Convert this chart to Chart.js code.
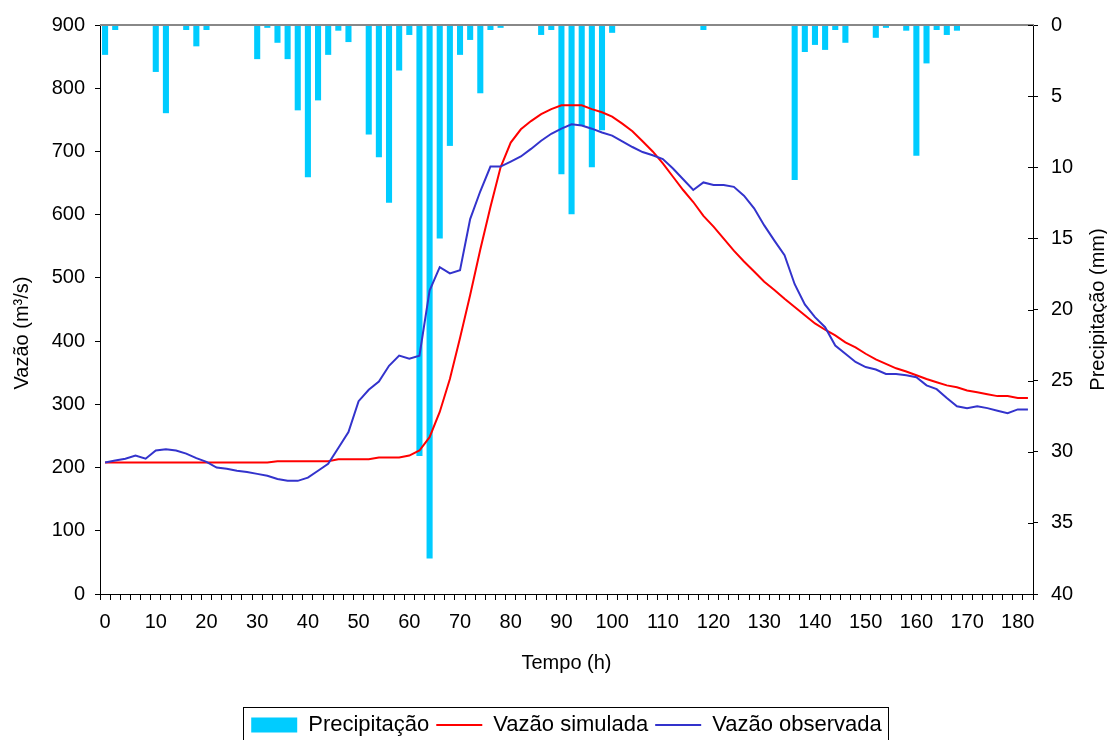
<!DOCTYPE html>
<html lang="pt-BR">
<head>
<meta charset="utf-8">
<title>Vazão e Precipitação</title>
<script src="https://cdn.jsdelivr.net/npm/chart.js@4.4.1/dist/chart.umd.min.js"></script>
<style>
    html, body { margin: 0; padding: 0; background: #fff; }
    #grafico { display: block; }
</style>
</head>
<body>
<canvas id="grafico" width="1107" height="740"></canvas>
<script>
/* ==========================================================================
   DADOS
   ========================================================================== */
const horas = [
    0, 2, 4, 6, 8, 10, 12, 14, 16, 18,
    20, 22, 24, 26, 28, 30, 32, 34, 36, 38,
    40, 42, 44, 46, 48, 50, 52, 54, 56, 58,
    60, 62, 64, 66, 68, 70, 72, 74, 76, 78,
    80, 82, 84, 86, 88, 90, 92, 94, 96, 98,
    100, 102, 104, 106, 108, 110, 112, 114, 116, 118,
    120, 122, 124, 126, 128, 130, 132, 134, 136, 138,
    140, 142, 144, 146, 148, 150, 152, 154, 156, 158,
    160, 162, 164, 166, 168, 170, 172, 174, 176, 178,
    180, 182
];

// Precipitação (mm)
const precipitacao = [
    2.1, 0.35, 0, 0, 0, 3.3, 6.2, 0, 0.35, 1.5,
    0.35, 0, 0, 0, 0, 2.4, 0.2, 1.25, 2.4, 6.0,
    10.7, 5.3, 2.1, 0.4, 1.2, 0, 7.7, 9.3, 12.5, 3.2,
    0.7, 30.3, 37.5, 15.0, 8.5, 2.1, 1.05, 4.8, 0.35, 0.2,
    0, 0, 0, 0.7, 0.35, 10.5, 13.3, 7.1, 10.0, 7.4,
    0.55, 0, 0, 0, 0, 0, 0, 0, 0, 0.35,
    0, 0, 0, 0, 0, 0, 0, 0, 10.9, 1.9,
    1.4, 1.75, 0.35, 1.25, 0, 0, 0.9, 0.2, 0, 0.4,
    9.2, 2.7, 0.35, 0.7, 0.4, 0, 0, 0, 0, 0,
    0, 0
];

// Vazão simulada (m3/s)
const vazaoSimulada = [
    208, 208, 208, 208, 208, 208, 208, 208, 208, 208,
    208, 208, 208, 208, 208, 208, 208, 210, 210, 210,
    210, 210, 210, 213, 213, 213, 213, 216, 216, 216,
    219, 227, 248, 288, 340, 405, 473, 545, 612, 675,
    714, 735, 748, 759, 767, 773, 773, 773, 767, 762,
    755, 744, 732, 716, 700, 681, 660, 639, 620, 598,
    581, 562, 543, 526, 510, 494, 481, 467, 454, 441,
    428, 418, 409, 398, 390, 380, 371, 364, 357, 352,
    346, 340, 335, 330, 327, 322, 319, 316, 313, 313,
    310, 310
];

// Vazão observada (m3/s)
const vazaoObservada = [
    208, 211, 214, 219, 214, 227, 229, 227, 222, 215,
    209, 200, 198, 195, 193, 190, 187, 182, 179, 179,
    184, 195, 206, 231, 256, 305, 323, 336, 361, 377,
    372, 377, 480, 517, 507, 512, 593, 637, 676, 676,
    684, 692, 704, 717, 728, 736, 743, 741, 736, 730,
    725, 716, 707, 699, 694, 688, 673, 656, 639, 651,
    647, 647, 644, 630, 610, 583, 559, 536, 490, 458,
    438, 422, 393, 380, 367, 359, 355, 348, 348, 346,
    343, 330, 324, 310, 297, 294, 297, 294, 290, 286,
    292, 292
];

const rotulosTempo = [0, 10, 20, 30, 40, 50, 60, 70, 80, 90, 100, 110, 120, 130, 140, 150, 160, 170, 180];
const ticksVazao = [0, 100, 200, 300, 400, 500, 600, 700, 800, 900];
const ticksPrecip = [0, 5, 10, 15, 20, 25, 30, 35, 40];

/* ==========================================================================
   ESTILO
   ========================================================================== */
const FONTE = 'Liberation Sans, Arial, sans-serif';
const COR_BARRA = '#00CCFF';
const COR_SIMULADA = '#FF0000';
const COR_OBSERVADA = '#3333CC';

// Desenhos extras: títulos dos eixos verticais, linha superior, moldura da legenda
const extras = {
    id: 'extras',
    beforeUpdate(chart) {
        // altura fixa da legenda
        const leg = chart.legend;
        if (leg && !leg._fixado) {
            const fitOriginal = leg.fit.bind(leg);
            leg.fit = function () { fitOriginal(); this.height = 33; };
            leg._fixado = true;
        }
    },
    afterDraw(chart) {
        const ctx = chart.ctx;
        const area = chart.chartArea;
        const y2 = chart.scales.y2;
        ctx.save();

        // linha cinza no topo da área do gráfico
        ctx.strokeStyle = '#888888';
        ctx.lineWidth = 2;
        ctx.beginPath();
        ctx.moveTo(area.left, area.top);
        ctx.lineTo(area.right + 1, area.top);
        ctx.stroke();

        // marcas internas do eixo secundário
        ctx.strokeStyle = '#000';
        ctx.lineWidth = 1;
        ticksPrecip.forEach(v => {
            const py = Math.round(y2.getPixelForValue(v)) + 0.5;
            ctx.beginPath();
            ctx.moveTo(area.right - 5, py);
            ctx.lineTo(area.right, py);
            ctx.stroke();
        });

        // títulos dos eixos verticais
        ctx.fillStyle = '#000';
        ctx.font = '20px ' + FONTE;
        ctx.textAlign = 'center';
        ctx.textBaseline = 'middle';

        ctx.save();
        ctx.translate(22, 333);
        ctx.rotate(-Math.PI / 2);
        ctx.fillText('Vazão (m³/s)', 0, 0);
        ctx.restore();

        ctx.save();
        ctx.translate(1098, (area.top + area.bottom) / 2);
        ctx.rotate(-Math.PI / 2);
        ctx.fillText('Precipitação (mm)', 0, 0);
        ctx.restore();

        // moldura da legenda
        const caixas = chart.legend.legendHitBoxes;
        if (caixas && caixas.length) {
            const esq = Math.min(...caixas.map(b => b.left)) - 8;
            const dir = Math.max(...caixas.map(b => b.left + b.width)) + 6;
            ctx.strokeStyle = '#000';
            ctx.lineWidth = 1;
            ctx.strokeRect(Math.round(esq) + 0.5, chart.legend.top + 0.5, Math.round(dir - esq), 60);
        }
        ctx.restore();
    }
};

/* ==========================================================================
   GRÁFICO
   ========================================================================== */
const ctx = document.getElementById('grafico').getContext('2d');

new Chart(ctx, {
    type: 'bar',
    data: {
        labels: horas,
        datasets: [{
            type: 'line',
            label: 'Vazão observada',
            data: vazaoObservada,
            yAxisID: 'y',
            borderColor: COR_OBSERVADA,
            backgroundColor: COR_OBSERVADA,
            borderWidth: 2,
            pointRadius: 0,
            pointStyle: 'line',
            tension: 0,
            fill: false,
            order: 0
        }, {
            type: 'line',
            label: 'Vazão simulada',
            data: vazaoSimulada,
            yAxisID: 'y',
            borderColor: COR_SIMULADA,
            backgroundColor: COR_SIMULADA,
            borderWidth: 2,
            pointRadius: 0,
            pointStyle: 'line',
            tension: 0,
            fill: false,
            order: 1
        }, {
            type: 'bar',
            label: 'Precipitação',
            data: precipitacao,
            yAxisID: 'y2',
            backgroundColor: COR_BARRA,
            borderWidth: 0,
            barPercentage: 0.6,
            categoryPercentage: 1,
            pointStyle: 'rect',
            order: 2
        }]
    },
    options: {
        responsive: false,
        animation: false,
        devicePixelRatio: 1,
        layout: { padding: { top: 24, left: 0, right: 0, bottom: 0 } },
        plugins: {
            tooltip: { enabled: false },
            legend: {
                position: 'bottom',
                fullSize: false,
                labels: {
                    usePointStyle: true,
                    pointStyleWidth: 46,
                    boxHeight: 15,
                    padding: 7,
                    color: '#000',
                    font: { family: FONTE, size: 22 },
                    // ordem original: Precipitação, simulada, observada
                    sort: (a, b) => b.datasetIndex - a.datasetIndex
                }
            }
        },
        scales: {
            x: {
                type: 'category',
                offset: true,
                grid: { offset: true, drawOnChartArea: false, drawTicks: true, tickLength: 6, color: '#000' },
                border: { color: '#000', width: 1 },
                ticks: {
                    autoSkip: false,
                    minRotation: 0,
                    maxRotation: 0,
                    padding: 10,
                    color: '#000',
                    font: { family: FONTE, size: 20 },
                    callback: (v, i) => rotulosTempo.includes(horas[i]) ? String(horas[i]) : ''
                },
                title: {
                    display: true,
                    text: 'Tempo (h)',
                    color: '#000',
                    font: { family: FONTE, size: 20 },
                    padding: { top: 4, bottom: 32 }
                },
                afterFit: s => { s.height = 113; }
            },
            y: {
                position: 'left',
                min: 0,
                max: 900,
                grid: { drawOnChartArea: false, drawTicks: true, tickLength: 5, color: '#000' },
                border: { color: '#000', width: 1 },
                ticks: {
                    padding: 10,
                    color: '#000',
                    font: { family: FONTE, size: 20 }
                },
                afterBuildTicks: s => { s.ticks = ticksVazao.map(v => ({ value: v })); },
                afterFit: s => { s.width = 100; }
            },
            y2: {
                position: 'right',
                min: 0,
                max: 40,
                reverse: true,
                grid: { drawOnChartArea: false, drawTicks: true, tickLength: 5, color: '#000' },
                border: { color: '#000', width: 1 },
                ticks: {
                    padding: 13,
                    color: '#000',
                    font: { family: FONTE, size: 20 }
                },
                afterBuildTicks: s => { s.ticks = ticksPrecip.map(v => ({ value: v })); },
                afterFit: s => { s.width = 74; }
            }
        }
    },
    plugins: [extras]
});
</script>
</body>
</html>
